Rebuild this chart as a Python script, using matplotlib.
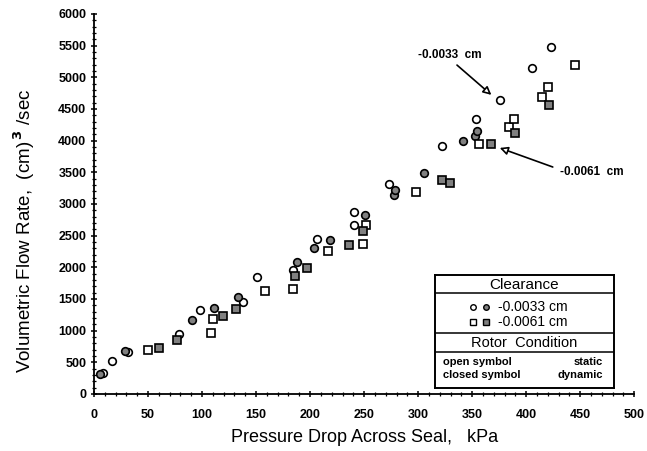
import matplotlib
matplotlib.use("Agg")
import matplotlib.pyplot as plt
from matplotlib.ticker import MultipleLocator

plt.rcParams['font.family'] = ['Liberation Sans', 'DejaVu Sans']

# clearance -0.0033 cm, static rotor (open circles)
c33_static_x = [8, 16.4, 31, 79, 98.4, 137.7, 151.2, 184, 206.2, 241, 241, 272.8, 321.9, 353.4, 375.6, 405.8, 423]
c33_static_y = [330, 521, 660, 947, 1331, 1458, 1852, 1958, 2447, 2874, 2663, 3316, 3916, 4337, 4642, 5142, 5484]

# clearance -0.0033 cm, dynamic rotor (closed circles)
c33_dyn_x = [6, 29, 91, 111.4, 133.6, 188.2, 203.4, 218.2, 250.6, 277.5, 279, 305, 341.4, 352.8, 354.3]
c33_dyn_y = [315, 680, 1173, 1363, 1532, 2090, 2300, 2432, 2832, 3147, 3216, 3495, 3990, 4074, 4158]

# clearance -0.0061 cm, static rotor (open squares)
c61_static_x = [50.3, 108, 110.5, 158.3, 184.6, 216.7, 248.5, 251.9, 298, 355.9, 384.3, 388.3, 414.2, 420.4, 445]
c61_static_y = [690, 968, 1180, 1626, 1658, 2258, 2364, 2674, 3190, 3948, 4211, 4337, 4695, 4852, 5195]

# clearance -0.0061 cm, dynamic rotor (closed squares)
c61_dyn_x = [60.5, 77.1, 119.7, 131.5, 185.8, 197, 236.1, 249.4, 322, 329.6, 367, 389.5, 421]
c61_dyn_y = [731, 853, 1232, 1342, 1863, 1995, 2353, 2574, 3379, 3327, 3948, 4116, 4568]

fill = '0.5'

fig = plt.figure(figsize=(6.47, 4.51), dpi=100)
ax = fig.add_axes([0.1453, 0.1264, 0.835, 0.8426])

ax.plot(c33_static_x, c33_static_y, 'o', ms=5.5, mfc='white', mec='black', mew=1.2, ls='none')
ax.plot(c33_dyn_x, c33_dyn_y, 'o', ms=5.5, mfc=fill, mec='black', mew=1.2, ls='none')
ax.plot(c61_static_x, c61_static_y, 's', ms=5.5, mfc='white', mec='black', mew=1.2, ls='none')
ax.plot(c61_dyn_x, c61_dyn_y, 's', ms=5.5, mfc=fill, mec='black', mew=1.2, ls='none')

ax.set_xlim(0, 500)
ax.set_ylim(0, 6000)
ax.xaxis.set_major_locator(MultipleLocator(50))
ax.xaxis.set_minor_locator(MultipleLocator(10))
ax.yaxis.set_major_locator(MultipleLocator(500))
ax.yaxis.set_minor_locator(MultipleLocator(100))
ax.spines['top'].set_visible(False)
ax.spines['right'].set_visible(False)
ax.spines['left'].set_linewidth(1.3)
ax.spines['bottom'].set_linewidth(1.3)
ax.tick_params(which='major', direction='inout', length=5, width=1.1, labelsize=9)
ax.tick_params(which='minor', direction='inout', length=3, width=0.9)
ax.tick_params(axis='x', pad=8)
ax.tick_params(axis='y', pad=3)
for lab in ax.get_xticklabels() + ax.get_yticklabels():
    lab.set_fontweight('bold')

ax.set_xlabel('Pressure Drop Across Seal,   kPa', fontsize=13, labelpad=6)
ax.set_ylabel(r'Volumetric Flow Rate,  (cm)$^{\,\mathbf{3}}$ /sec', fontsize=13.5)
ax.yaxis.set_label_coords(-0.105, 0.43)

# arrows pointing at the two clearances
ax.annotate('', xy=(369.7, 4694), xytext=(334, 5222),
            arrowprops=dict(arrowstyle='-|>', color='black', lw=1.2, mutation_scale=12, fc='white'))
ax.text(300, 5345, '-0.0033  cm', fontsize=8.5, fontweight='bold', va='center')
ax.annotate('', xy=(373.1, 3900), xytext=(427, 3569),
            arrowprops=dict(arrowstyle='-|>', color='black', lw=1.2, mutation_scale=12, fc='white'))
ax.text(431.5, 3505, '-0.0061  cm', fontsize=8.5, fontweight='bold', va='center')

# legend box drawn by hand
lg = fig.add_axes([0.6723, 0.1397, 0.2767, 0.2506])
lg.set_xlim(0, 1)
lg.set_ylim(0, 1)
lg.set_xticks([])
lg.set_yticks([])
for s in lg.spines.values():
    s.set_linewidth(1.4)
for yy in [0.838, 0.484, 0.321]:
    lg.axhline(yy, color='black', lw=1.1)
lg.text(0.5, 0.912, 'Clearance', ha='center', va='center', fontsize=11)
lg.plot([0.214], [0.714], 'o', ms=4, mfc='white', mec='black', mew=1)
lg.plot([0.283], [0.714], 'o', ms=4, mfc=fill, mec='black', mew=1)
lg.text(0.354, 0.714, '-0.0033 cm', va='center', fontsize=10)
lg.plot([0.214], [0.587], 's', ms=4, mfc='white', mec='black', mew=1)
lg.plot([0.283], [0.587], 's', ms=4, mfc=fill, mec='black', mew=1)
lg.text(0.354, 0.587, '-0.0061 cm', va='center', fontsize=10)
lg.text(0.5, 0.396, 'Rotor  Condition', ha='center', va='center', fontsize=10.5)
lg.text(0.043, 0.227, 'open symbol', va='center', fontsize=8, fontweight='bold')
lg.text(0.937, 0.227, 'static', va='center', ha='right', fontsize=8, fontweight='bold')
lg.text(0.043, 0.115, 'closed symbol', va='center', fontsize=8, fontweight='bold')
lg.text(0.937, 0.115, 'dynamic', va='center', ha='right', fontsize=8, fontweight='bold')

fig.savefig('out.png', dpi=100)
